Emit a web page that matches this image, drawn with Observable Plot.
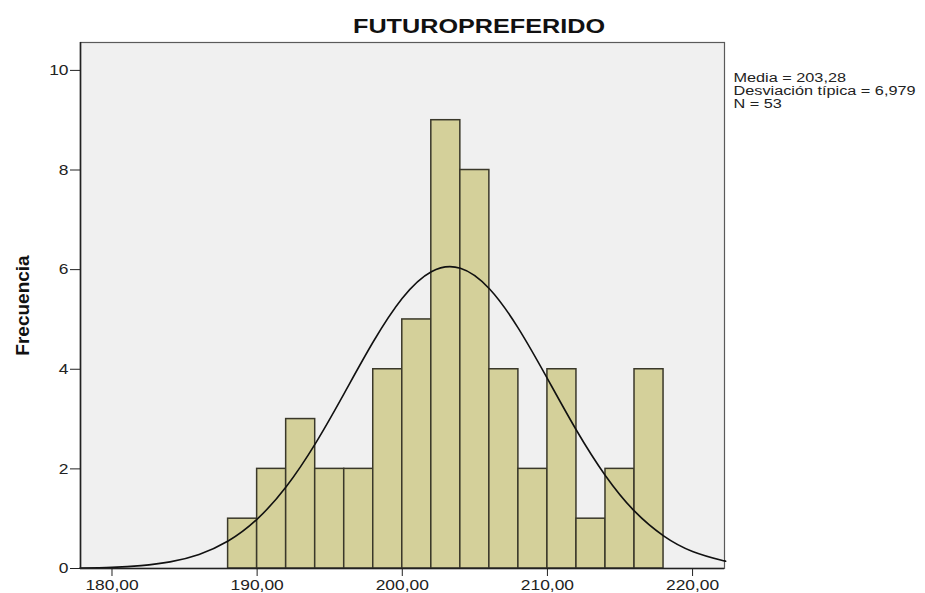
<!DOCTYPE html>
<html>
<head>
<meta charset="utf-8">
<script src="https://cdn.jsdelivr.net/npm/d3@7"></script>
<script src="https://cdn.jsdelivr.net/npm/@observablehq/plot@0.6"></script>
<style>
  body { margin: 0; background: #fff; }
  #chart { width: 925px; height: 593px; }
</style>
</head>
<body>
<div id="chart"></div>
<script>
// ---- data ----
const title = "FUTUROPREFERIDO";
const yLabel = "Frecuencia";
const binStarts = [188, 190, 192, 194, 196, 198, 200, 202, 204, 206, 208, 210, 212, 214, 216];
const binEnds   = [190, 192, 194, 196, 198, 200, 202, 204, 206, 208, 210, 212, 214, 216, 218];
const counts    = [1, 2, 3, 2, 2, 4, 5, 9, 8, 4, 2, 4, 1, 2, 4];
// fitted normal curve
const curveX = [177.8, 180, 182, 184, 186, 188, 190, 192, 194, 196, 198, 200, 202, 204, 206, 208, 210, 212, 214, 216, 218, 220, 222, 222.2];
const curveY = [0.007, 0.023, 0.058, 0.133, 0.283, 0.551, 0.991, 1.642, 2.503, 3.517, 4.552, 5.426, 5.959, 6.028, 5.617, 4.821, 3.812, 2.776, 1.863, 1.151, 0.656, 0.343, 0.166, 0.154];
const statsLines = ["Media = 203,28", "Desviación típica = 6,979", "N = 53"];
const xTicks = [180, 190, 200, 210, 220];
const yTicks = [0, 2, 4, 6, 8, 10];
const xDomain = [177.83, 222.2];
const yDomain = [0, 10.56];

const bins = binStarts.map((s, i) => ({x1: s, x2: binEnds[i], y: counts[i]}));
const curve = curveX.map((x, i) => ({x, y: curveY[i]}));

const plot = Plot.plot({
  width: 925,
  height: 593,
  marginLeft: 80,
  marginRight: 201,
  marginTop: 42,
  marginBottom: 25,
  style: {fontFamily: "'Liberation Sans', Arial, sans-serif", background: "#fff", overflow: "visible", color: "#222"},
  x: {domain: xDomain},
  y: {domain: yDomain},
  marks: [
    Plot.frame({fill: "#f0f0f0", stroke: "#5a5a5a", strokeWidth: 1.2}),
    Plot.rectY(bins, {x1: "x1", x2: "x2", y: "y", fill: "#d4d09a", stroke: "#3a382a", strokeWidth: 1.5}),
    Plot.line(curve, {x: "x", y: "y", curve: "natural", stroke: "#111", strokeWidth: 1.6}),
    Plot.ruleX([xDomain[0]], {stroke: "#222", strokeWidth: 1.6}),
    Plot.ruleY([0], {stroke: "#222", strokeWidth: 1.6}),
    Plot.axisY({ticks: yTicks, tickSize: 10, tickPadding: 2, fontSize: 14.5, label: null, stroke: "#222"}),
    Plot.axisX({ticks: xTicks, tickSize: 8, tickPadding: 3, fontSize: 14.5, label: null, stroke: "#222",
      tickFormat: d => d.toFixed(2).replace(".", ",")}),
    Plot.text([yLabel], {frameAnchor: "left", dx: -58, rotate: -90, textAnchor: "middle", lineAnchor: "middle",
      fontWeight: "bold", fontSize: 19, fill: "#111"}),
    Plot.text([title], {frameAnchor: "top-left", dx: 398.5, dy: -16.5, textAnchor: "middle", lineAnchor: "middle",
      fontWeight: "bold", fontSize: 21, fill: "#111"}),
    Plot.text([statsLines.join("\n")], {frameAnchor: "top-right", dx: 9, dy: 30, textAnchor: "start", lineAnchor: "top",
      fontSize: 12.5, lineHeight: 1.05, fill: "#222", className: "stats"})
  ]
});

document.getElementById("chart").appendChild(plot);

// the reference image is stretched horizontally; mimic it on horizontal texts
plot.querySelectorAll("text").forEach(t => {
  const tr = t.getAttribute("transform") || "";
  if (tr.includes("rotate")) return;
  const stretch = t.closest(".stats") ? 1.3 : 1.2;
  const spans = t.querySelectorAll("tspan");
  const targets = spans.length ? Array.from(spans) : [t];
  targets.forEach(el => {
    const len = el.getComputedTextLength();
    if (len > 0) {
      el.setAttribute("textLength", (len * stretch).toFixed(2));
      el.setAttribute("lengthAdjust", "spacingAndGlyphs");
    }
  });
});
</script>
</body>
</html>
